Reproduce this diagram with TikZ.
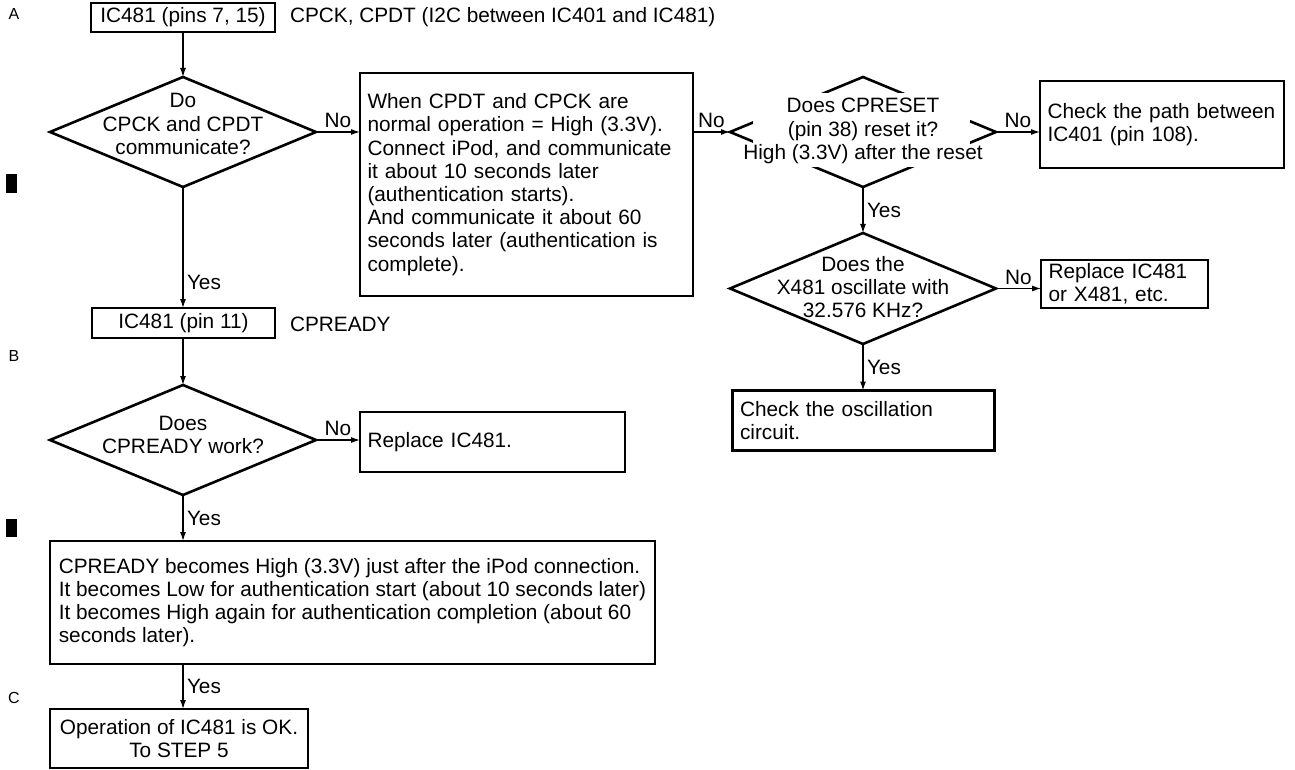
\documentclass[tikz,border=0pt]{standalone}
\usepackage{fontspec}
\setmainfont{Liberation Sans}
\usetikzlibrary{shapes.geometric,arrows.meta}

\tikzset{
	base/.style={font=\fontsize{10.4}{11.6}\selectfont, outer sep=0pt},
	block/.style={base, draw, line width=1.3pt, inner xsep=3.75pt, inner ysep=0pt},
	decision/.style={base, draw, diamond, line width=1.3pt, inner sep=0pt},
	lbl/.style={base, inner sep=2pt},
	flow/.style={->, line width=0.6pt},
}

\begin{document}
\begin{tikzpicture}[x=0.5pt, y=-0.5pt, >={Latex[length=4.5pt,width=3pt]}]
	\useasboundingbox (0,0) rectangle (1295,770);

	% margin marks
	\node[base, font=\fontsize{8}{9}\selectfont] (markA) at (14,14) {A};
	\node[base, font=\fontsize{8}{9}\selectfont] (markB) at (14,356) {B};
	\node[base, font=\fontsize{8}{9}\selectfont] (markC) at (14,698) {C};
	\fill (6,174) rectangle (17,193);
	\fill (6,519) rectangle (17,537);

	% left column
	\node[block, minimum width=92pt, minimum height=14.5pt] (pins) at (183,17.5) {IC481 (pins 7, 15)};
	\node[lbl, anchor=west] (pinsnote) at (286,17.5) {CPCK, CPDT (I2C between IC401 and IC481)};

	\node[decision, minimum width=133pt, minimum height=55pt] (comm) at (183,132) {};
	\node[base, align=center] (commtxt) at (183,124) {Do\\CPCK and CPDT\\communicate?};

	\node[block, minimum width=91.5pt, minimum height=15pt] (pin11) at (183.5,323) {IC481 (pin 11)};
	\node[lbl, anchor=west] (pin11note) at (286,324) {CPREADY};

	\node[decision, minimum width=133pt, minimum height=55pt] (ready) at (183,440) {};
	\node[base, align=center] (readytxt) at (183,435) {Does\\CPREADY work?};

	\node[block, minimum width=132.5pt, minimum height=30pt, text width=125pt, align=left] (replace1) at (492.5,442) {Replace IC481.};

	\node[block, minimum width=302.5pt, minimum height=61.5pt, align=left] (behave) at (352.5,602.5)
		{CPREADY becomes High (3.3V) just after the iPod connection.\\
		It becomes Low for authentication start (about 10 seconds later)\\
		It becomes High again for authentication completion (about 60\\
		seconds later).};

	\node[block, minimum width=129pt, minimum height=29.5pt, align=center] (finish) at (179,738.5) {Operation of IC481 is OK.\\To STEP 5};

	% middle and right column
	\node[block, minimum width=166.5pt, minimum height=111.5pt, text width=159pt, align=left] (normal) at (526.5,184.5)
		{When CPDT and CPCK are\\
		normal operation = High (3.3V).\\
		Connect iPod, and communicate\\
		it about 10 seconds later\\
		(authentication starts).\\
		And communicate it about 60\\
		seconds later (authentication is\\
		complete).};

	\node[decision, minimum width=133pt, minimum height=55pt] (reset) at (863,132) {};
	\node[fill=white, inner sep=0pt, minimum width=108.5pt, minimum height=37pt] (resetmask) at (861.5,130) {};
	\node[base, align=center] (resettxt) at (863,131) {Does CPRESET\\(pin 38) reset it?\\High (3.3V) after the reset};

	\node[block, minimum width=122pt, minimum height=43.5pt, text width=114.5pt, align=left] (path) at (1162,124.5) {Check the path between\\IC401 (pin 108).};

	\node[decision, minimum width=133pt, minimum height=55.5pt] (osc) at (863,288.5) {};
	\node[base, align=center] (osctxt) at (863,287) {Does the\\X481 oscillate with\\32.576 KHz?};

	\node[block, minimum width=83.5pt, minimum height=24pt, text width=76pt, align=left] (replace2) at (1124.5,284) {Replace IC481\\or X481, etc.};

	\node[block, minimum width=131pt, minimum height=30pt, text width=123.5pt, align=left] (oscbox) at (863.5,420.5) {Check the oscillation\\circuit.};

	% connectors
	\draw[flow] (pins.south) -- (comm.north);
	\draw[flow] (comm.east) -- node[lbl, above] (no1) {No} (comm.east -| normal.west);
	\draw[flow] (comm.south) -- node[lbl, right, pos=0.79] (yes1) {Yes} (comm.south |- pin11.north);
	\draw[flow] (ready.north |- pin11.south) -- (ready.north);
	\draw[flow] (ready.east) -- node[lbl, above] (no5) {No} (ready.east -| replace1.west);
	\draw[flow] (ready.south) -- node[lbl, right] (yes4) {Yes} (ready.south |- behave.north);
	\draw[flow] (ready.south |- behave.south) -- node[lbl, right] (yes5) {Yes} (ready.south |- finish.north);
	\draw[flow] (normal.east |- reset.west) -- node[lbl, above] (no2) {No} (reset.west);
	\draw[flow] (reset.east) -- node[lbl, above] (no3) {No} (reset.east -| path.west);
	\draw[flow] (reset.south) -- node[lbl, right] (yes2) {Yes} (osc.north);
	\draw[flow] (osc.east) -- node[lbl, above] (no4) {No} (osc.east -| replace2.west);
	\draw[flow] (osc.south) -- node[lbl, right] (yes3) {Yes} (osc.south |- oscbox.north);
\end{tikzpicture}
\end{document}
